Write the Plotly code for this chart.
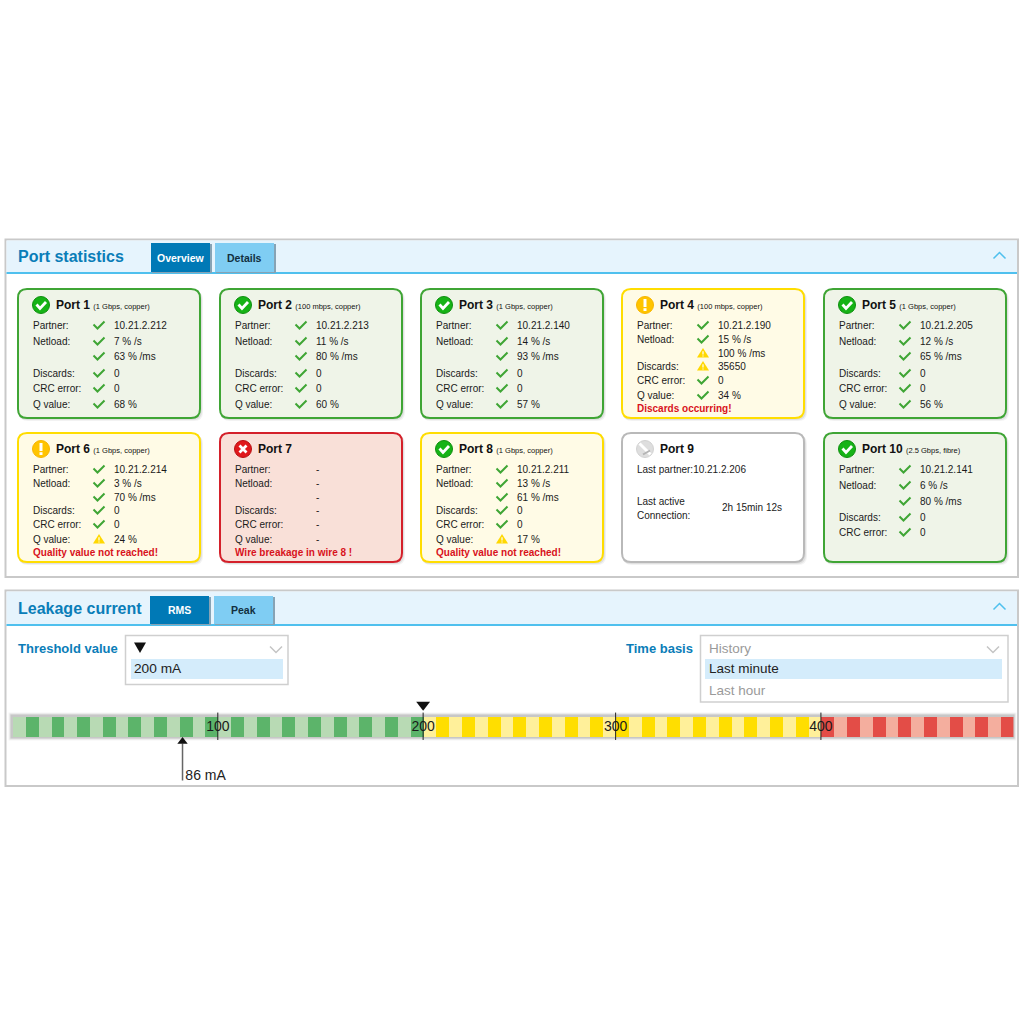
'''
Port statistics and leakage current dashboard
'''

import plotly.graph_objects as go

# ---- port data ----
port_names = ['Port 1', 'Port 2', 'Port 3', 'Port 4', 'Port 5', 'Port 6', 'Port 7', 'Port 8', 'Port 9', 'Port 10']
port_speeds = ['1 Gbps, copper', '100 mbps, copper', '1 Gbps, copper', '100 mbps, copper', '1 Gbps, copper',
               '1 Gbps, copper', '', '1 Gbps, copper', '', '2.5 Gbps, fibre']
card_states = ['ok', 'ok', 'ok', 'warn', 'ok', 'warn', 'error', 'warn', 'idle', 'ok']
icon_states = ['ok', 'ok', 'ok', 'warn', 'ok', 'warn', 'error', 'ok', 'idle', 'ok']
partners = ['10.21.2.212', '10.21.2.213', '10.21.2.140', '10.21.2.190', '10.21.2.205',
            '10.21.2.214', '-', '10.21.2.211', '10.21.2.206', '10.21.2.141']
netload_s = ['7 % /s', '11 % /s', '14 % /s', '15 % /s', '12 % /s', '3 % /s', '-', '13 % /s', '', '6 % /s']
netload_ms = ['63 % /ms', '80 % /ms', '93 % /ms', '100 % /ms', '65 % /ms', '70 % /ms', '-', '61 % /ms', '', '80 % /ms']
discards = ['0', '0', '0', '35650', '0', '0', '-', '0', '', '0']
crc_errors = ['0', '0', '0', '0', '0', '0', '-', '0', '', '0']
q_values = ['68 %', '60 %', '57 %', '34 %', '56 %', '24 %', '-', '17 %', '', '']
messages = ['', '', '', 'Discards occurring!', '', 'Quality value not reached!',
            'Wire breakage in wire 8 !', 'Quality value not reached!', '', '']
# rows flagged with a warning triangle instead of the tick: (port index, row index)
warn_rows = [(3, 2), (3, 3), (5, 5), (7, 5)]
row_labels = ['Partner:', 'Netload:', '', 'Discards:', 'CRC error:', 'Q value:']
last_active = '2h 15min 12s'

# ---- leakage scale data ----
stripe_counts = [32, 31, 15]
stripe_dark = ['#5cb46a', '#ffde00', '#e34d47']
stripe_light = ['#b8dab4', '#fff09a', '#f4ae9e']
tick_labels = ['100', '200', '300', '400']
tick_stripes = [16, 32, 47, 63]
threshold_stripe = [32]
current_stripe = [13.25]
current_label = ['86 mA']

# ---- layout constants (pixels) ----
card_x = [18, 220, 421, 622, 824]
card_w = 182
card_y = [289, 433]
card_h = 129
row_y_full = [36, 52, 67, 84, 99, 115]
row_y_msg = [36, 50, 64, 77, 91, 106, 119]
row_y_short = [36, 52, 68, 84, 99]
card_fill = {'ok': '#eff4e8', 'warn': '#fffbe6', 'error': '#f9e0d8', 'idle': '#ffffff'}
card_line = {'ok': '#3fa535', 'warn': '#ffdd00', 'error': '#d4202a', 'idle': '#b9b9b9'}

FONT = 'Liberation Sans, Arial, sans-serif'
BLUE = '#0a7db8'
HEADER = '#e6f4fd'
RULE = '#4fc0ee'

shapes = []
annotations = []


def rr(x0, y0, x1, y1, r):
    return (f'M{x0+r},{y0} L{x1-r},{y0} Q{x1},{y0} {x1},{y0+r} L{x1},{y1-r} Q{x1},{y1} {x1-r},{y1} '
            f'L{x0+r},{y1} Q{x0},{y1} {x0},{y1-r} L{x0},{y0+r} Q{x0},{y0} {x0+r},{y0} Z')


def add_path(path, fill=None, line=None, width=1, layer='below'):
    shapes.append(dict(type='path', path=path, xref='x', yref='y', layer=layer,
                       fillcolor=fill if fill else 'rgba(0,0,0,0)',
                       line=dict(color=line if line else 'rgba(0,0,0,0)', width=width if line else 0)))


def add_rect(x0, y0, x1, y1, fill=None, line=None, width=1, layer='below'):
    shapes.append(dict(type='rect', x0=x0, y0=y0, x1=x1, y1=y1, xref='x', yref='y', layer=layer,
                       fillcolor=fill if fill else 'rgba(0,0,0,0)',
                       line=dict(color=line if line else 'rgba(0,0,0,0)', width=width if line else 0)))


def add_circle(cx, cy, r, fill, line=None, layer='above'):
    shapes.append(dict(type='circle', x0=cx-r, y0=cy-r, x1=cx+r, y1=cy+r, xref='x', yref='y', layer=layer,
                       fillcolor=fill, line=dict(color=line if line else 'rgba(0,0,0,0)', width=1 if line else 0)))


def txt(x, y, s, size=10, color='#1a1a1a', bold=False, anchor='left'):
    annotations.append(dict(x=x, y=y, xref='x', yref='y', text=f'<b>{s}</b>' if bold else s, showarrow=False,
                            xanchor=anchor, yanchor='middle', borderpad=0, align=anchor,
                            font=dict(family=FONT, size=size, color=color)))


def tick(cx, cy):
    add_path(f'M{cx-5.5},{cy-0.5} L{cx-1.5},{cy+3.5} L{cx+5.5},{cy-3.5}', line='#3fa535', width=2, layer='above')


def warning(cx, cy):
    add_path(f'M{cx},{cy-5} L{cx+6},{cy+4.5} L{cx-6},{cy+4.5} Z', fill='#ffd800', layer='above')
    add_rect(cx-0.6, cy-1.8, cx+0.6, cy+1.6, fill='#ffffff', layer='above')
    add_rect(cx-0.6, cy+2.4, cx+0.6, cy+3.6, fill='#ffffff', layer='above')


def chevron(cx, cy, color, up=False):
    d = -3 if up else 3
    add_path(f'M{cx-6},{cy-d} L{cx},{cy+d} L{cx+6},{cy-d}', line=color, width=1.5)


def status_icon(cx, cy, state):
    if state == 'ok':
        add_circle(cx, cy, 8.5, '#16b316', '#0f8f0f')
        add_path(f'M{cx-4.5},{cy-0.5} L{cx-1},{cy+3.5} L{cx+5},{cy-3}', line='#ffffff', width=2.8, layer='above')
    elif state == 'warn':
        add_circle(cx, cy, 8.5, '#ffc400', '#f7b500')
        add_rect(cx-1.5, cy-6, cx+1.5, cy+2, fill='#ffffff', layer='above')
        add_rect(cx-1.5, cy+3.2, cx+1.5, cy+6, fill='#ffffff', layer='above')
    elif state == 'error':
        add_circle(cx, cy, 8.5, '#e0181c', '#b81014')
        add_path(f'M{cx-3.5},{cy-3.5} L{cx+3.5},{cy+3.5} M{cx+3.5},{cy-3.5} L{cx-3.5},{cy+3.5}',
                 line='#ffffff', width=2.8, layer='above')
    else:
        add_circle(cx, cy, 8.5, '#dedede', '#d2d2d2')
        add_path(f'M{cx-5.5},{cy-5.5} L{cx+5.5},{cy+5.5}', line='#ffffff', width=3, layer='above')
        add_path(f'M{cx-2},{cy+5.5} L{cx+5},{cy+1.5}', line='#b4b4b4', width=2, layer='above')


def tab(x0, y0, x1, y1, label, active):
    add_rect(x0+1, y0+1, x1+2, y1+1, fill='#86a3b5')
    add_rect(x0, y0, x1, y1, fill='#0079b6' if active else '#7fcdf3')
    txt((x0+x1)/2, (y0+y1)/2, label, size=10.5, color='#ffffff' if active else '#12303f', bold=True, anchor='center')


def panel(y0, y1, header_bottom, title, title_size):
    add_rect(5.5, y0, 1018, y1, fill='#ffffff', line='#c9c9c9', width=2)
    add_rect(6.5, y0+1, 1017, header_bottom, fill=HEADER)
    add_rect(6.5, header_bottom-1, 1017, header_bottom+1, fill=RULE)
    txt(17, (y0+header_bottom)/2 + 0.5, title, size=title_size, color=BLUE, bold=True)
    chevron(999.5, y0+16, RULE, up=True)


def card(i):
    x = card_x[i % 5]
    y = card_y[i // 5]
    state = card_states[i]
    add_path(rr(x+1, y+2, x+card_w+3, y+card_h+3, 9), fill='rgba(0,0,0,0.05)')
    add_path(rr(x, y+1, x+card_w+2, y+card_h+2, 9), fill='rgba(0,0,0,0.07)')
    add_path(rr(x, y, x+card_w, y+card_h, 9), fill=card_fill[state], line=card_line[state], width=2)
    status_icon(x+23, y+16, icon_states[i])
    head = f'<b>{port_names[i]}</b>'
    if port_speeds[i]:
        head += f' <span style="font-size:7.5px">({port_speeds[i]})</span>'
    txt(x+37, y+16, head, size=12, color='#111111')

    if state == 'idle':
        txt(x+14, y+36, 'Last partner:' + partners[i])
        txt(x+14, y+68, 'Last active')
        txt(x+14, y+82, 'Connection:')
        txt(x+99, y+74, last_active)
        return

    values = [partners[i], netload_s[i], netload_ms[i], discards[i], crc_errors[i], q_values[i]]
    if messages[i]:
        rows = row_y_msg
    elif q_values[i]:
        rows = row_y_full
    else:
        rows = row_y_short
    for r, offset in enumerate(rows[:6]):
        if r >= len(values) or not values[r]:
            continue
        if row_labels[r]:
            txt(x+14, y+offset, row_labels[r])
        if values[r] == '-':
            txt(x+95, y+offset, '-')
            continue
        if (i, r) in warn_rows:
            warning(x+81, y+offset)
        else:
            tick(x+81, y+offset)
        txt(x+95, y+offset, values[r])
    if messages[i]:
        txt(x+14, y+rows[6], messages[i], color='#d8121c', bold=True)


# ---- panels ----
panel(239.5, 577, 273, 'Port statistics', 16)
tab(151, 243, 210, 272, 'Overview', True)
tab(215, 243, 274, 272, 'Details', False)
for n in range(len(port_names)):
    card(n)

panel(590.5, 786, 625, 'Leakage current', 16)
tab(150, 596, 209, 624, 'RMS', True)
tab(214, 596, 273, 624, 'Peak', False)

# threshold drop down
txt(17, 648, 'Threshold value', size=13, color=BLUE, bold=True)
add_rect(125.5, 635.5, 288, 684.5, fill='#ffffff', line='#cfcfcf', width=1.5)
add_rect(131, 659, 283, 679, fill='#d4ecfb')
add_path('M134,642.5 L146,642.5 L140,653 Z', fill='#111111')
chevron(276, 649.5, '#c4c4c4')
txt(133, 668.5, '200 mA', size=13.7, color='#222222')

# time basis drop down
txt(693.5, 648, 'Time basis', size=13, color=BLUE, bold=True, anchor='right')
add_rect(700.5, 635.5, 1008, 702, fill='#ffffff', line='#cfcfcf', width=1.5)
add_rect(705, 659, 1002, 679, fill='#d4ecfb')
chevron(993, 649.5, '#c4c4c4')
txt(708, 648, 'History', size=13.5, color='#9a9a9a')
txt(708, 668.5, 'Last minute', size=13.5, color='#222222')
txt(708, 690, 'Last hour', size=13.5, color='#9a9a9a')

# soft gray halo behind the scale
add_rect(8.5, 712.5, 1016.5, 740.5, fill='rgba(0,0,0,0.04)')
add_rect(9.5, 713.5, 1015.5, 739.5, fill='rgba(0,0,0,0.07)')
add_rect(10.5, 714.5, 1014.5, 738.5, fill='rgba(0,0,0,0.12)')

# ---- leakage scale traces ----
stripe_x = []
stripe_color = []
pos = 0
for zone, count in enumerate(stripe_counts):
    for _ in range(count):
        stripe_x.append(pos + 0.5)
        stripe_color.append(stripe_dark[zone] if pos % 2 else stripe_light[zone])
        pos += 1

tick_x = []
tick_y = []
for s in tick_stripes:
    tick_x += [s, s, None]
    tick_y += [-0.13, 1.2, None]

fig = go.Figure()
fig.add_trace(go.Scatter(x=[0, 1024], y=[0, 1024], mode='markers', marker=dict(opacity=0), hoverinfo='skip',
                         xaxis='x', yaxis='y', showlegend=False))
fig.add_trace(go.Bar(x=stripe_x, y=[1] * len(stripe_x), width=1, marker=dict(color=stripe_color, line=dict(width=0)),
                     xaxis='x2', yaxis='y2', showlegend=False, hoverinfo='skip'))
fig.add_trace(go.Scatter(x=tick_x, y=tick_y, mode='lines', line=dict(color='#222222', width=1),
                         xaxis='x2', yaxis='y2', showlegend=False, hoverinfo='skip'))
fig.add_trace(go.Scatter(x=tick_stripes, y=[0.5] * len(tick_stripes), mode='text', text=tick_labels,
                         textposition='middle center', textfont=dict(family=FONT, size=14, color='#1a1a1a'),
                         xaxis='x2', yaxis='y2', showlegend=False, hoverinfo='skip'))
fig.add_trace(go.Scatter(x=threshold_stripe, y=[1.58], mode='markers', marker=dict(symbol='triangle-down', size=12, color='#111111'),
                         xaxis='x2', yaxis='y2', showlegend=False, hoverinfo='skip'))
fig.add_trace(go.Scatter(x=current_stripe * 2, y=[-2.1, -0.3], mode='lines', line=dict(color='#666666', width=1.5),
                         xaxis='x2', yaxis='y2', showlegend=False, hoverinfo='skip'))
fig.add_trace(go.Scatter(x=current_stripe, y=[-0.2], mode='markers', marker=dict(symbol='triangle-up', size=9, color='#111111'),
                         xaxis='x2', yaxis='y2', showlegend=False, hoverinfo='skip'))
fig.add_trace(go.Scatter(x=[current_stripe[0] + 0.22], y=[-1.9], mode='text', text=current_label, textposition='middle right',
                         textfont=dict(family=FONT, size=14, color='#222222'),
                         xaxis='x2', yaxis='y2', showlegend=False, hoverinfo='skip'))

# the scale axis sits on the same pixels as the stripes
scale_left = 12.5
scale_right = 1013.4
scale_top = 695
scale_bottom = 785
fig.update_layout(
    width=1024,
    height=1024,
    margin=dict(l=0, r=0, t=0, b=0),
    paper_bgcolor='#ffffff',
    plot_bgcolor='rgba(0,0,0,0)',
    bargap=0,
    showlegend=False,
    shapes=shapes,
    annotations=annotations,
    xaxis=dict(range=[0, 1024], domain=[0, 1], visible=False, fixedrange=True),
    yaxis=dict(range=[1024, 0], domain=[0, 1], visible=False, fixedrange=True),
    xaxis2=dict(range=[0, sum(stripe_counts)], domain=[scale_left / 1024, scale_right / 1024], visible=False,
                anchor='y2', fixedrange=True),
    yaxis2=dict(range=[(737.3 - scale_bottom) / 20.6, (737.3 - scale_top) / 20.6],
                domain=[1 - scale_bottom / 1024, 1 - scale_top / 1024], visible=False, anchor='x2', fixedrange=True),
)

fig.write_html('out.html', config={'displayModeBar': False},
               post_script="document.body.style.margin='0';document.documentElement.style.overflow='hidden';")
